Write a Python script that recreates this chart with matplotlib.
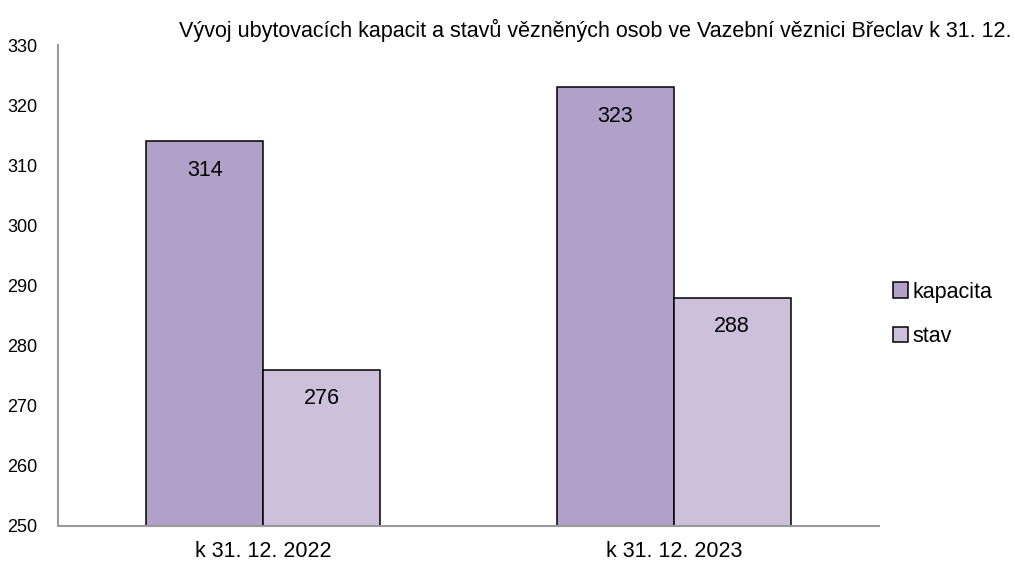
import numpy as np
import matplotlib
matplotlib.use('Agg')
import matplotlib.pyplot as plt

plt.rcParams['font.family'] = ['Liberation Sans', 'DejaVu Sans']

# Data
categories = ['k 31. 12. 2022', 'k 31. 12. 2023']
kapacita = [314, 323]
stav = [276, 288]
series_names = ['kapacita', 'stav']
title = 'Vývoj ubytovacích kapacit a stavů vězněných osob ve Vazební věznici Břeclav k 31. 12.'

colors = ['#B1A0C7', '#CCC0DA']

fig = plt.figure(figsize=(10.15, 5.7), dpi=100, facecolor='white')
ax = fig.add_axes([0.0571, 0.0772, 0.8089, 0.8438])

x = np.arange(len(categories))
width = 0.285

b1 = ax.bar(x - width / 2, kapacita, width, color=colors[0],
            edgecolor='black', linewidth=1.1, label=series_names[0])
b2 = ax.bar(x + width / 2, stav, width, color=colors[1],
            edgecolor='black', linewidth=1.1, label=series_names[1])

# value labels inside the bar, near the top
for bars in (b1, b2):
    for bar in bars:
        h = bar.get_height()
        ax.annotate(f'{h:.0f}', (bar.get_x() + bar.get_width() / 2, h),
                    xytext=(0, -29), textcoords='offset pixels',
                    ha='center', va='center', fontsize=15.5)

ax.set_ylim(250, 330)
ax.set_xlim(-0.5, 1.5)
ax.set_yticks(np.arange(250, 331, 10))
ax.set_xticks(x)
ax.set_xticklabels(categories, fontsize=15.5)
ax.tick_params(axis='y', labelsize=13, length=0, pad=15)
ax.tick_params(axis='x', length=0, pad=11)

for s in ['top', 'right']:
    ax.spines[s].set_visible(False)
for s in ['left', 'bottom']:
    ax.spines[s].set_color('#999999')
    ax.spines[s].set_linewidth(1.5)

leg = ax.legend(loc='center left', bbox_to_anchor=(1.0, 0.44), frameon=False,
                fontsize=15.5, handlelength=0.7, handleheight=0.7,
                handletextpad=0.2, labelspacing=1.1, borderaxespad=0.25)

fig.text(0.997, 0.947, title, ha='right', va='center', fontsize=15.5)

fig.savefig('out.png', dpi=100, facecolor='white')
